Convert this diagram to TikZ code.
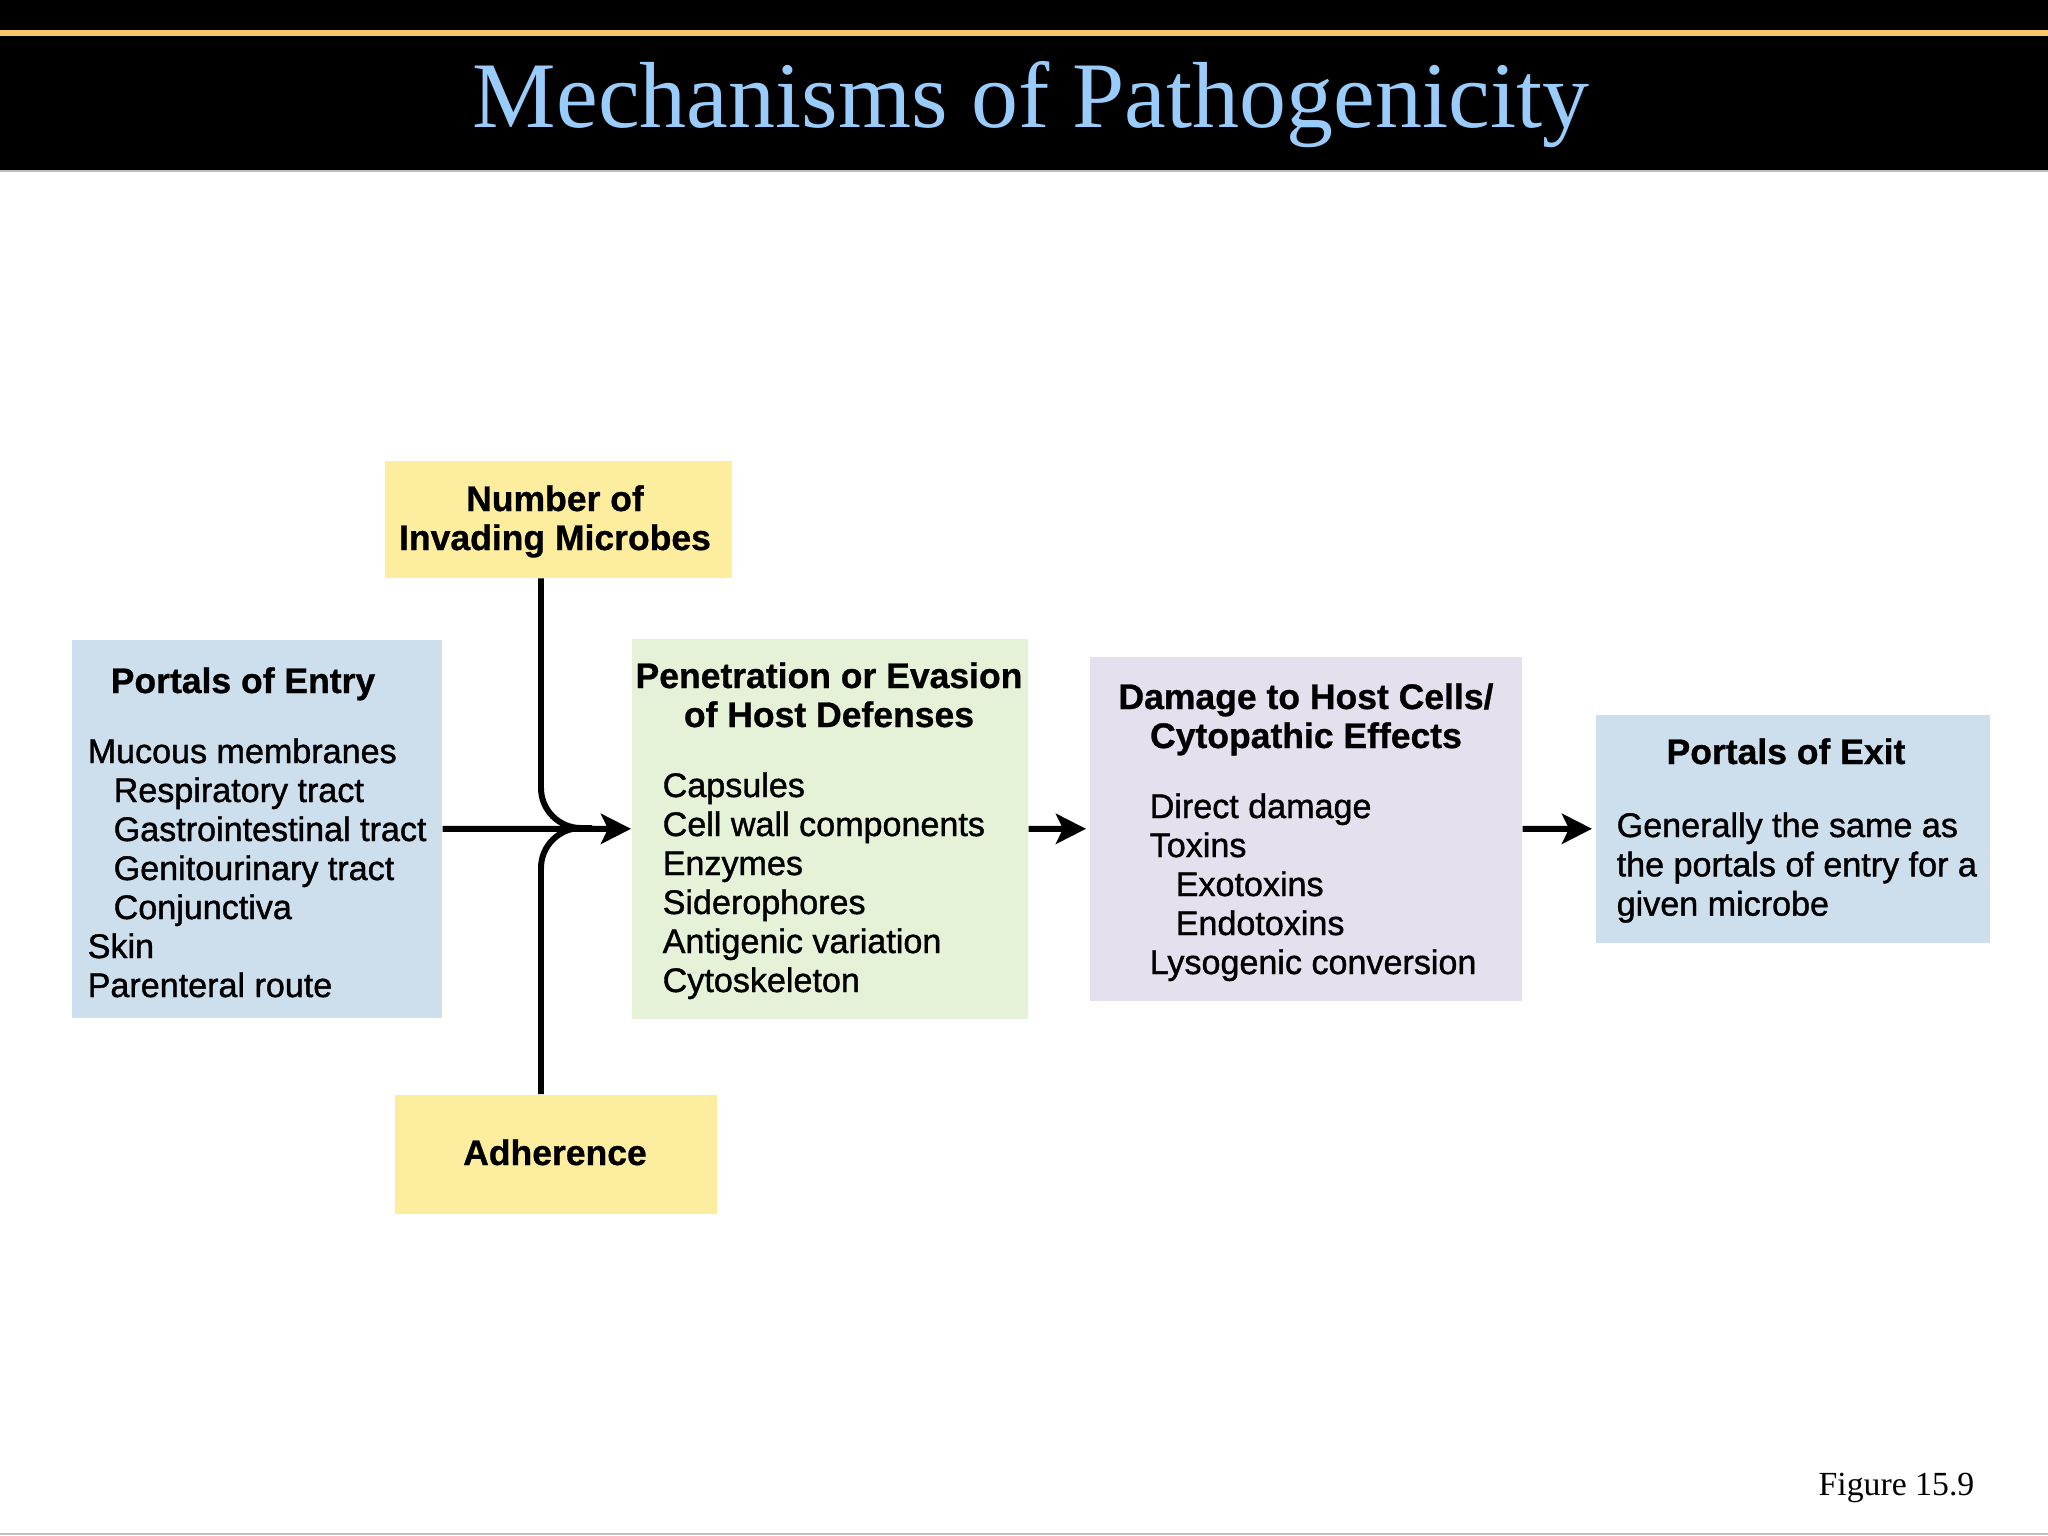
\documentclass[tikz,border=0pt]{standalone}
\usepackage{fontspec}
\setmainfont{Liberation Serif}
\newfontfamily\itemfont{Liberation Sans}[FakeBold=1.2]
\newfontfamily\headfont{Liberation Sans}[UprightFont={* Bold},FakeBold=0.8]
\usetikzlibrary{arrows.meta}
\definecolor{titleblue}{RGB}{153,204,250}
\definecolor{goldline}{RGB}{250,200,105}
\definecolor{boxyellow}{RGB}{252,238,158}
\definecolor{boxblue}{RGB}{205,222,236}
\definecolor{boxgreen}{RGB}{230,242,216}
\definecolor{boxlilac}{RGB}{228,224,238}
\begin{document}
\begin{tikzpicture}[x=0.01cm,y=-0.01cm,
    box/.style={rectangle,inner sep=0,anchor=north west},
    head/.style={anchor=base,inner sep=0,font=\headfont\fontsize{10.1}{11.1}\selectfont},
    item/.style={anchor=base west,inner sep=0,font=\itemfont\fontsize{9.7}{11.1}\selectfont},
    flow/.style={line width=1.7pt,-{Stealth[length=0.3cm,width=0.3cm,inset=0.07cm]}},
    feed/.style={line width=1.7pt,rounded corners=0.4cm}]
\useasboundingbox (0,0) rectangle (2048,1536);

% title bar
\fill[black] (0,0) rectangle (2048,170);
\fill[goldline] (0,30) rectangle (2048,36);
\draw[gray!50,line width=0.6pt] (0,171)--(2048,171);
\node[anchor=base,inner sep=0,text=titleblue,font=\fontsize{26.7}{30}\selectfont] (title) at (1031,127) {Mechanisms of Pathogenicity};

% boxes
\node[box,fill=boxyellow,minimum width=3.47cm,minimum height=1.17cm] (microbes) at (384,460) {};
\node[box,fill=boxblue,minimum width=3.70cm,minimum height=3.78cm] (entry) at (71,639) {};
\node[box,fill=boxgreen,minimum width=3.96cm,minimum height=3.80cm] (penetration) at (631,638) {};
\node[box,fill=boxlilac,minimum width=4.32cm,minimum height=3.44cm] (damage) at (1089,656) {};
\node[box,fill=boxblue,minimum width=3.94cm,minimum height=2.28cm] (exit) at (1595,714) {};
\node[box,fill=boxyellow,minimum width=3.22cm,minimum height=1.19cm] (adherence) at (394,1094) {};

% headings
\node[head] (microbes-a) at (555,511) {Number of};
\node[head] (microbes-b) at (555,550) {Invading Microbes};
\node[head] (entry-head) at (243,693) {Portals of Entry};
\node[head] (pen-a) at (829,688) {Penetration or Evasion};
\node[head] (pen-b) at (829,727) {of Host Defenses};
\node[head] (dam-a) at (1306,709) {Damage to Host Cells/};
\node[head] (dam-b) at (1306,748) {Cytopathic Effects};
\node[head] (exit-head) at (1786,764) {Portals of Exit};
\node[head] (adherence-head) at (555,1165) {Adherence};

% lists
\foreach \dx/\txt [count=\i from 0] in {0/Mucous membranes,26/Respiratory tract,26/Gastrointestinal tract,26/Genitourinary tract,26/Conjunctiva,0/Skin,0/Parenteral route}
{
    \node[item] (entry-\i) at ({87+\dx},{763+39*\i}) {\txt};
}
\foreach \txt [count=\i from 0] in {Capsules,Cell wall components,Enzymes,Siderophores,Antigenic variation,Cytoskeleton}
{
    \node[item] (pen-\i) at (662,{797+39*\i}) {\txt};
}
\foreach \dx/\txt [count=\i from 0] in {0/Direct damage,0/Toxins,26/Exotoxins,26/Endotoxins,0/Lysogenic conversion}
{
    \node[item] (dam-\i) at ({1149+\dx},{818+39*\i}) {\txt};
}
\foreach \txt [count=\i from 0] in {Generally the same as,the portals of entry for a,given microbe}
{
    \node[item] (exit-\i) at (1616,{837+39.3*\i}) {\txt};
}

% connectors
\coordinate (hub) at (541,828);
\coordinate (merge) at (592,828);
\draw[feed] (microbes.south -| hub) |- (merge);
\draw[feed] (adherence.north -| hub) |- (merge);
\draw[flow] (entry.east) -- (penetration.west);
\draw[flow] (penetration.east) -- ([xshift=-0.03cm]damage.west);
\draw[flow] (damage.east) -- ([xshift=-0.03cm]exit.west);

\node[anchor=base east,inner sep=0,font=\fontsize{9.6}{11}\selectfont] (figlabel) at (1975,1495) {Figure 15.9};
\draw[gray!50,line width=0.6pt] (0,1534)--(2048,1534);
\end{tikzpicture}
\end{document}
